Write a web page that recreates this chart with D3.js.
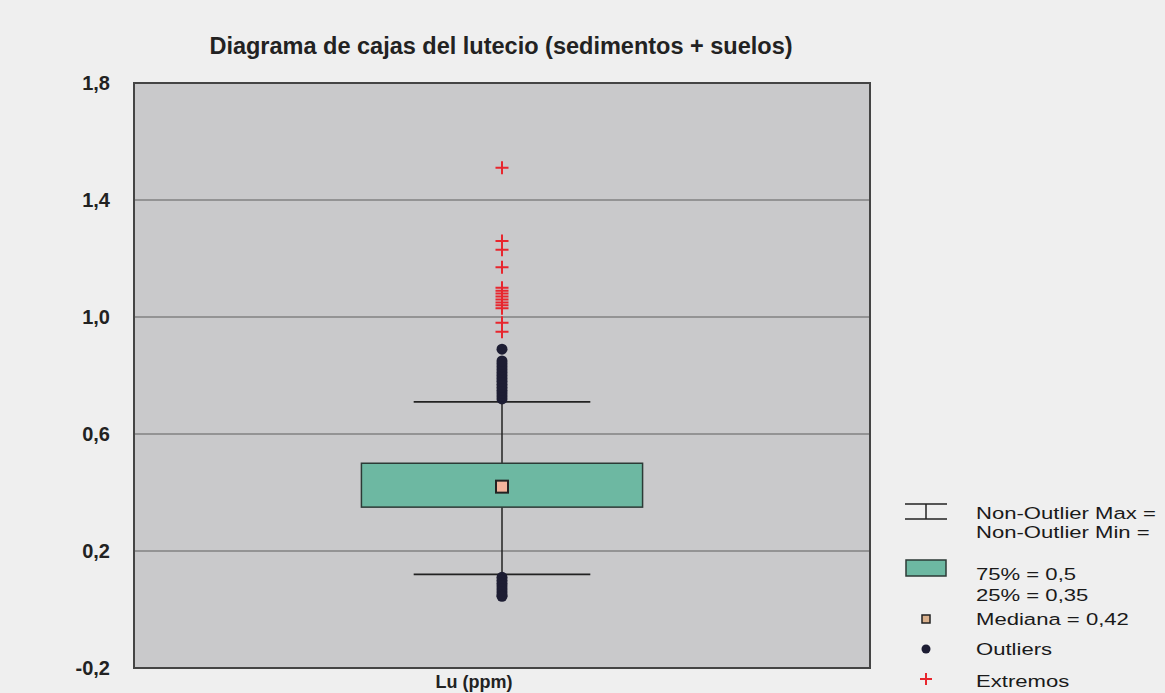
<!DOCTYPE html>
<html>
<head>
<meta charset="utf-8">
<script src="https://cdn.jsdelivr.net/npm/d3@7"></script>
<style>
  body { margin: 0; background: #efefef; }
  svg { display: block; font-family: Arial, "Liberation Sans", sans-serif; }
</style>
</head>
<body>
<svg id="area" width="1165" height="693"></svg>
<script>
// box statistics, Lu (ppm)
let categories = ["Lu (ppm)"];
let q1 = [0.35];
let q3 = [0.5];
let median = [0.42];
let whiskerMin = [0.12];
let whiskerMax = [0.71];
let upperOutliers = [0.72, 0.73, 0.74, 0.75, 0.76, 0.77, 0.78, 0.79, 0.80, 0.81, 0.82, 0.83, 0.84, 0.85, 0.89];
let lowerOutliers = [0.11, 0.10, 0.09, 0.08, 0.07, 0.06, 0.05, 0.045];
let extremes = [0.95, 0.98, 1.03, 1.04, 1.05, 1.06, 1.07, 1.08, 1.09, 1.10, 1.17, 1.23, 1.26, 1.51];
let yTicks = [-0.2, 0.2, 0.6, 1.0, 1.4, 1.8];
let legendLabels = ["Non-Outlier Max =", "Non-Outlier Min =", "75% = 0,5", "25% = 0,35", "Mediana = 0,42", "Outliers", "Extremos"];

let svg = d3.select("#area");

let plotLeft = 134, plotRight = 870, plotTop = 83, plotBottom = 668;

let xScale = d3.scaleBand()
    .domain(categories)
    .range([plotLeft, plotRight]);
let yScale = d3.scaleLinear()
    .domain([-0.2, 1.8])
    .range([plotBottom, plotTop]);

let fmt = d3.formatLocale({decimal: ",", thousands: ".", grouping: [3], currency: ["", ""], minus: "-"}).format(".1f");

// plot background
svg.append("rect")
    .attr("x", plotLeft).attr("y", plotTop)
    .attr("width", plotRight - plotLeft).attr("height", plotBottom - plotTop)
    .style("fill", "#c9c9cb");

// gridlines
svg.append("g")
    .selectAll("line")
    .data(yTicks.filter(t => t > -0.2 && t < 1.8))
    .join("line")
    .attr("x1", plotLeft).attr("x2", plotRight)
    .attr("y1", d => yScale(d)).attr("y2", d => yScale(d))
    .style("stroke", "#5e5e5e")
    .style("stroke-width", "1.2px");

let leftAxis = d3.axisLeft(yScale).tickValues(yTicks).tickSize(0).tickPadding(24).tickFormat(fmt);
svg.append("g")
    .attr("transform", "translate(" + plotLeft + ",0)")
    .call(leftAxis)
    .call(g => g.select(".domain").remove())
    .selectAll("text")
    .style("font-size", "20px")
    .style("font-weight", "bold")
    .style("fill", "#222");

// border
svg.append("rect")
    .attr("x", plotLeft).attr("y", plotTop)
    .attr("width", plotRight - plotLeft).attr("height", plotBottom - plotTop)
    .style("fill", "none")
    .style("stroke", "#444")
    .style("stroke-width", "2px");

let cx = xScale("Lu (ppm)") + xScale.bandwidth() / 2;
let boxW = xScale.bandwidth() * 0.382;
let capW = xScale.bandwidth() * 0.24;

let chart = svg.append("g").attr("class", "chart");

// whisker stems
chart.append("line")
    .attr("x1", cx).attr("x2", cx)
    .attr("y1", yScale(whiskerMax[0])).attr("y2", yScale(q3[0]))
    .style("stroke", "#222").style("stroke-width", "1.5px");
chart.append("line")
    .attr("x1", cx).attr("x2", cx)
    .attr("y1", yScale(q1[0])).attr("y2", yScale(whiskerMin[0]))
    .style("stroke", "#222").style("stroke-width", "1.5px");

// caps
chart.selectAll(".cap")
    .data([whiskerMax[0], whiskerMin[0]])
    .join("line")
    .attr("class", "cap")
    .attr("x1", cx - capW / 2).attr("x2", cx + capW / 2)
    .attr("y1", d => yScale(d)).attr("y2", d => yScale(d))
    .style("stroke", "#222").style("stroke-width", "1.8px");

// box
chart.append("rect")
    .attr("x", cx - boxW / 2)
    .attr("y", yScale(q3[0]))
    .attr("width", boxW)
    .attr("height", yScale(q1[0]) - yScale(q3[0]))
    .style("fill", "#6db8a2")
    .style("stroke", "#2c3a36")
    .style("stroke-width", "1.5px");

// median
chart.append("rect")
    .attr("x", cx - 6).attr("y", yScale(median[0]) - 6)
    .attr("width", 12).attr("height", 12)
    .style("fill", "#f2b49c")
    .style("stroke", "#222")
    .style("stroke-width", "2px");

// outliers
chart.selectAll(".outlier")
    .data(upperOutliers.concat(lowerOutliers))
    .join("circle")
    .attr("class", "outlier")
    .attr("cx", cx)
    .attr("cy", d => yScale(d))
    .attr("r", 5.5)
    .style("fill", "#1d1d33");

// extremes
chart.selectAll(".extreme")
    .data(extremes)
    .join("path")
    .attr("class", "extreme")
    .attr("transform", d => "translate(" + cx + "," + yScale(d) + ")")
    .attr("d", "M-6.5,0H6.5M0,-6.5V6.5")
    .style("fill", "none")
    .style("stroke", "#e8262e")
    .style("stroke-width", "2px");

// title
svg.append("text")
    .attr("x", 501).attr("y", 54)
    .attr("text-anchor", "middle")
    .style("font-size", "23.5px")
    .style("font-weight", "bold")
    .style("fill", "#222")
    .text("Diagrama de cajas del lutecio (sedimentos + suelos)");

// x label
svg.append("text")
    .attr("x", 474).attr("y", 688)
    .attr("text-anchor", "middle")
    .style("font-size", "18px")
    .style("font-weight", "bold")
    .style("fill", "#222")
    .text(categories[0]);

// legend
let lg = svg.append("g");
let lx = 926;
lg.append("line").attr("x1", lx - 21).attr("x2", lx + 21).attr("y1", 504).attr("y2", 504)
    .style("stroke", "#222").style("stroke-width", "1.5px");
lg.append("line").attr("x1", lx - 21).attr("x2", lx + 21).attr("y1", 519).attr("y2", 519)
    .style("stroke", "#222").style("stroke-width", "1.5px");
lg.append("line").attr("x1", lx).attr("x2", lx).attr("y1", 504).attr("y2", 519)
    .style("stroke", "#222").style("stroke-width", "1.5px");
lg.append("rect").attr("x", lx - 20).attr("y", 560).attr("width", 40).attr("height", 16)
    .style("fill", "#6db8a2").style("stroke", "#2c3a36").style("stroke-width", "1.5px");
lg.append("rect").attr("x", lx - 4).attr("y", 615).attr("width", 8).attr("height", 8)
    .style("fill", "#d9b08c").style("stroke", "#222").style("stroke-width", "1.5px");
lg.append("circle").attr("cx", lx).attr("cy", 649).attr("r", 4.5).style("fill", "#1d1d33");
lg.append("path").attr("transform", "translate(" + lx + ",679)").attr("d", "M-6,0H6M0,-6V6")
    .style("fill", "none").style("stroke", "#e8262e").style("stroke-width", "2px");

let legendY = [519, 538, 580, 601, 625, 655, 687];
lg.selectAll(".lt")
    .data(legendLabels)
    .join("text")
    .attr("class", "lt")
    .attr("transform", (d, i) => "translate(976," + legendY[i] + ") scale(1.3,1)")
    .style("font-size", "17px")
    .style("fill", "#1a1a1a")
    .text(d => d);
</script>
</body>
</html>
